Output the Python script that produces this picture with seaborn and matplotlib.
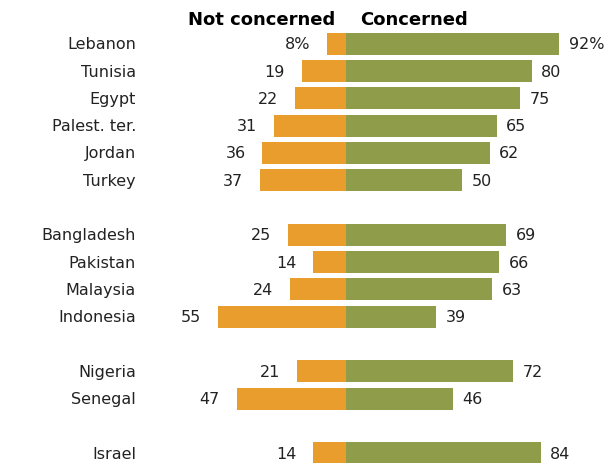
import matplotlib
matplotlib.use("Agg")
import matplotlib.pyplot as plt
import seaborn as sns
import numpy as np
import pandas as pd

# groups of countries (blank row between groups)
groups = [
    ["Lebanon", "Tunisia", "Egypt", "Palest. ter.", "Jordan", "Turkey"],
    ["Bangladesh", "Pakistan", "Malaysia", "Indonesia"],
    ["Nigeria", "Senegal"],
    ["Israel"],
]
not_concerned = [8, 19, 22, 31, 36, 37, 25, 14, 24, 55, 21, 47, 14]
concerned = [92, 80, 75, 65, 62, 50, 69, 66, 63, 39, 72, 46, 84]

orange = "#E89D2D"
green = "#8F9C4A"
text_col = "#222222"

# row positions with a blank row between groups
countries, pos = [], []
row = 0
for g in groups:
    for c in g:
        countries.append(c)
        pos.append(row)
        row += 1
    row += 1

df = pd.DataFrame({"country": countries, "pos": pos,
                   "not_concerned": not_concerned, "concerned": concerned})
df["neg"] = -df["not_concerned"]

sns.set_theme(style="white")
fig = plt.figure(figsize=(6.14, 4.64), dpi=100)
ax = fig.add_axes([0, 0, 1, 1])

sns.barplot(data=df, x="neg", y="pos", orient="h", native_scale=True,
            color=orange, saturation=1, width=0.8, errorbar=None,
            linewidth=0, ax=ax)
sns.barplot(data=df, x="concerned", y="pos", orient="h", native_scale=True,
            color=green, saturation=1, width=0.8, errorbar=None,
            linewidth=0, ax=ax)

ax.set_xlim(-149.1, 115.5)
ax.set_ylim(15.36, -1.64)
ax.set_axis_off()

for i, r in df.iterrows():
    suffix = "%" if i == 0 else ""
    ax.text(-90.5, r["pos"], r["country"], ha="right", va="center",
            fontsize=11.5, color=text_col)
    ax.text(-r["not_concerned"] - 7.3, r["pos"], f"{r['not_concerned']}{suffix}",
            ha="right", va="center", fontsize=11.5, color=text_col)
    ax.text(r["concerned"] + 4.0, r["pos"], f"{r['concerned']}{suffix}",
            ha="left", va="center", fontsize=11.5, color=text_col)

# column headers
ax.text(-4.7, -0.9, "Not concerned", ha="right", va="center",
        fontsize=13, fontweight="bold", color="black")
ax.text(6.0, -0.9, "Concerned", ha="left", va="center",
        fontsize=13, fontweight="bold", color="black")

fig.savefig("out.png", dpi=100)
